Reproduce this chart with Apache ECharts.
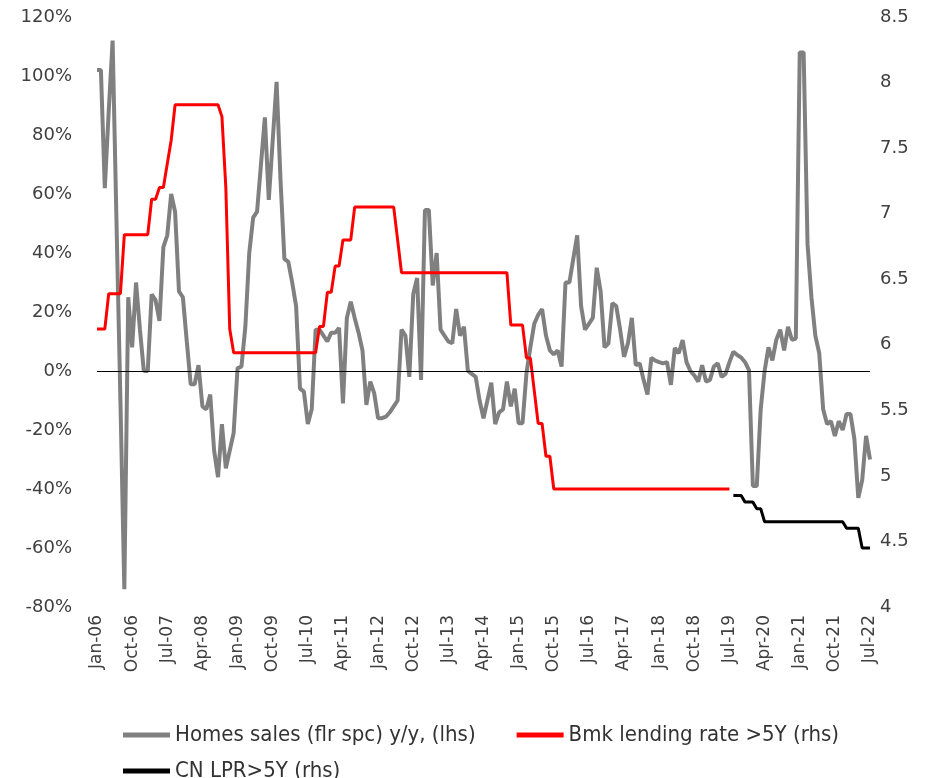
<!DOCTYPE html>
<html>
<head>
<meta charset="utf-8">
<script src="https://cdn.jsdelivr.net/npm/echarts@6/dist/echarts.min.js"></script>
<style>
  html, body { margin: 0; padding: 0; background: #fff; }
  #chart { width: 930px; height: 778px; }
</style>
</head>
<body>
<div id="chart"></div>
<script>
// months Jan-06 .. Jul-22
const monthNames = ['Jan', 'Feb', 'Mar', 'Apr', 'May', 'Jun', 'Jul', 'Aug', 'Sep', 'Oct', 'Nov', 'Dec']
const categories = []
for (let y = 2006; y <= 2022; y++) {
    for (let m = 0; m < 12; m++) {
        if (y === 2022 && m > 6) break
        categories.push(monthNames[m] + '-' + String(y).slice(2))
    }
}

// Homes sales (floor space) y/y, % (lhs)
const homeSales = [
    102, 102, 62, 88, 112, 50, -10, -74, 25, 8, 30, 14,
    0, 0, 26, 24, 17, 42, 46, 60, 54, 27, 25, 10,
    -4.5, -4.5, 2, -12, -13, -8, -27, -36, -18, -33, -27, -21,
    1, 1.5, 15, 40, 52, 54, 70, 86, 58, 78, 98, 65,
    38, 37, 30, 22, -6, -7, -18, -13, 14, 14, 12, 10,
    13, 13, 14.6, -11, 18, 23.5, 18, 13, 7, -11.5, -3.6, -7.5,
    -16, -16, -15.5, -14, -12, -10, 14, 12, -2, 26, 31.5, -3,
    54.6, 54.6, 29, 40, 14, 12, 10, 9.4, 21, 12, 15, 0,
    -1, -2, -10, -16, -10, -4, -18, -14, -13, -3.6, -12, -6,
    -17.7, -17.7, -0.8, 8, 16, 19, 21, 12, 7, 5.6, 7, 1.5,
    30, 30, 38, 46, 22, 14, 16, 18, 35, 27, 8, 9.4,
    23, 22, 14, 4.8, 9.4, 18, 2, 2.6, -3, -8, 4.5, 3.5,
    3, 2.6, 3, -4.7, 7.8, 6, 10.5, 3, 0, -1.5, -3.6, 2,
    -3.6, -3, 1.5, 2.6, -2, -1, 3, 6.5, 5.4, 4.6, 3, 0.3,
    -39, -39, -13, 0, 8, 3.6, 10.6, 14, 7, 15, 10.6, 11,
    108, 108, 43, 25, 12, 6, -13, -18, -17, -22, -17, -20,
    -14.6, -14.6, -23, -43, -37, -22, -30
]

// Benchmark lending rate >5Y (rhs), Jan-06 .. Jul-19
const lendingRate = [
    6.12, 6.12, 6.12, 6.39, 6.39, 6.39, 6.39, 6.84, 6.84, 6.84, 6.84, 6.84,
    6.84, 6.84, 7.11, 7.11, 7.20, 7.20, 7.38, 7.56, 7.83, 7.83, 7.83, 7.83,
    7.83, 7.83, 7.83, 7.83, 7.83, 7.83, 7.83, 7.83, 7.74, 7.20, 6.12, 5.94,
    5.94, 5.94, 5.94, 5.94, 5.94, 5.94, 5.94, 5.94, 5.94, 5.94, 5.94, 5.94,
    5.94, 5.94, 5.94, 5.94, 5.94, 5.94, 5.94, 5.94, 5.94, 6.14, 6.14, 6.40,
    6.40, 6.60, 6.60, 6.80, 6.80, 6.80, 7.05, 7.05, 7.05, 7.05, 7.05, 7.05,
    7.05, 7.05, 7.05, 7.05, 7.05, 6.80, 6.55, 6.55, 6.55, 6.55, 6.55, 6.55,
    6.55, 6.55, 6.55, 6.55, 6.55, 6.55, 6.55, 6.55, 6.55, 6.55, 6.55, 6.55,
    6.55, 6.55, 6.55, 6.55, 6.55, 6.55, 6.55, 6.55, 6.55, 6.55, 6.15, 6.15,
    6.15, 6.15, 5.90, 5.90, 5.65, 5.40, 5.40, 5.15, 5.15, 4.90, 4.90, 4.90,
    4.90, 4.90, 4.90, 4.90, 4.90, 4.90, 4.90, 4.90, 4.90, 4.90, 4.90, 4.90,
    4.90, 4.90, 4.90, 4.90, 4.90, 4.90, 4.90, 4.90, 4.90, 4.90, 4.90, 4.90,
    4.90, 4.90, 4.90, 4.90, 4.90, 4.90, 4.90, 4.90, 4.90, 4.90, 4.90, 4.90,
    4.90, 4.90, 4.90, 4.90, 4.90, 4.90, 4.90
]

// CN LPR >5Y (rhs), Aug-19 .. Jul-22
const lprRate = [
    4.85, 4.85, 4.85, 4.80, 4.80,
    4.80, 4.75, 4.75, 4.65, 4.65, 4.65, 4.65, 4.65, 4.65, 4.65, 4.65, 4.65,
    4.65, 4.65, 4.65, 4.65, 4.65, 4.65, 4.65, 4.65, 4.65, 4.65, 4.65, 4.65,
    4.60, 4.60, 4.60, 4.60, 4.45, 4.45, 4.45
]

const seriesNames = ['Homes sales (flr spc) y/y, (lhs)', 'Bmk lending rate >5Y (rhs)', 'CN LPR>5Y (rhs)']

// pad the rate series so they line up with the month axis
const lendingData = lendingRate.concat(new Array(categories.length - lendingRate.length).fill(null))
const lprData = new Array(categories.length - lprRate.length).fill(null).concat(lprRate)

const axisFont = {fontFamily: 'DejaVu Sans', fontSize: 18, color: '#404040'}
const legendFont = {fontFamily: '"Liberation Sans Narrow", "DejaVu Sans Condensed", sans-serif', fontSize: 22, color: '#333'}

const chart = echarts.init(document.getElementById('chart'))
chart.setOption({
    animation: false,
    backgroundColor: '#fff',
    grid: {left: 97, right: 60, top: 17, bottom: 171, containLabel: false},
    legend: [
        {
            data: [seriesNames[0], seriesNames[1]],
            left: 118, top: 719, itemGap: 41,
            itemWidth: 47, itemHeight: 5, icon: 'rect',
            textStyle: legendFont
        },
        {
            data: [seriesNames[2]],
            left: 118, top: 755,
            itemWidth: 47, itemHeight: 5, icon: 'rect',
            textStyle: legendFont
        }
    ],
    xAxis: {
        type: 'category',
        data: categories,
        boundaryGap: false,
        axisLine: {show: false},
        axisTick: {show: false},
        splitLine: {show: false},
        axisLabel: {...axisFont, fontSize: 17, rotate: 90, interval: 8, margin: 8}
    },
    yAxis: [
        {
            type: 'value', min: -80, max: 120, interval: 20,
            axisLine: {show: false}, axisTick: {show: false}, splitLine: {show: false},
            axisLabel: {...axisFont, formatter: '{value}%', margin: 25}
        },
        {
            type: 'value', min: 4, max: 8.5, interval: 0.5,
            axisLine: {show: false}, axisTick: {show: false}, splitLine: {show: false},
            axisLabel: {...axisFont, margin: 10, formatter: v => String(v)}
        }
    ],
    series: [
        {
            name: seriesNames[0], type: 'line', yAxisIndex: 0,
            data: homeSales, showSymbol: false, symbol: 'none',
            lineStyle: {color: '#808080', width: 4}, itemStyle: {color: '#808080'},
            markLine: {
                silent: true, symbol: 'none', label: {show: false},
                lineStyle: {color: '#000', width: 1, type: 'solid'},
                data: [{yAxis: 0}]
            }
        },
        {
            name: seriesNames[1], type: 'line', yAxisIndex: 1,
            data: lendingData, showSymbol: false, symbol: 'none',
            lineStyle: {color: '#ff0000', width: 3}, itemStyle: {color: '#ff0000'}
        },
        {
            name: seriesNames[2], type: 'line', yAxisIndex: 1,
            data: lprData, showSymbol: false, symbol: 'none',
            lineStyle: {color: '#000000', width: 3}, itemStyle: {color: '#000000'}
        }
    ]
})
</script>
</body>
</html>
